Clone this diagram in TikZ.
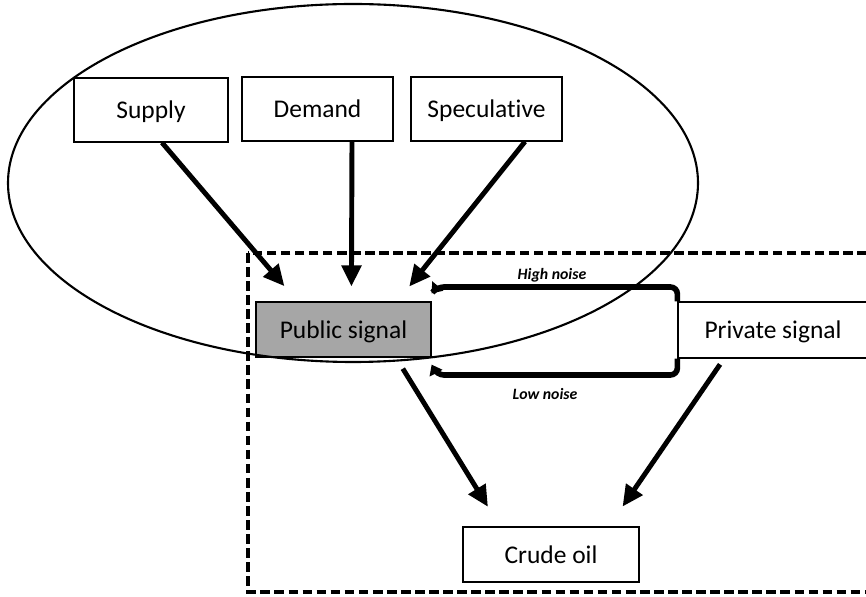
\documentclass[tikz,border=0pt]{standalone}
\usepackage{fontspec}
\setmainfont{Carlito}[Ligatures=NoCommon]
\usetikzlibrary{arrows.meta}
\definecolor{signalgray}{RGB}{166,166,166}
\newlength{\px}
\setlength{\px}{0.02cm}
\tikzset{
  box/.style={draw, line width=0.7pt, inner sep=0pt, text height=11.5pt, text depth=1.5pt, font=\fontsize{14.5}{16}\selectfont},
  flow/.style={line width=2.8pt, -{Triangle[width=11pt,length=12pt]}},
  noise/.style={line width=3.2pt, rounded corners=4pt, -{Triangle[width=8pt,length=5.5pt]}},
  noiselabel/.style={font=\fontsize{9}{10}\selectfont\bfseries\itshape},
  frame/.style={line width=1.8pt, dash pattern=on 5.5pt off 2.5pt},
}

\begin{document}
\begin{tikzpicture}[x=0.02cm, y=-0.02cm]
\useasboundingbox (0,0) rectangle (866,597);
\clip (0,0) rectangle (866,597);
\draw[frame] (248,253) rectangle (900,592);
\node[box, minimum width=154\px, minimum height=64\px](supply) at (151,110) {Supply};
\node[box, minimum width=151\px, minimum height=64\px](demand) at (317.5,109) {Demand};
\node[box, minimum width=151\px, minimum height=64\px](spec) at (486.5,109) {Speculative};
\node[box, fill=signalgray, minimum width=175\px, minimum height=55\px](public) at (343.5,329.5) {Public signal};
\node[box, minimum width=190\px, minimum height=56\px](private) at (773,330) {Private signal};
\node[box, minimum width=176\px, minimum height=55\px](crude) at (551,554.5) {Crude oil};
\draw[flow, shorten >=20\px] ([xshift=11\px]supply.south) -- ([xshift=42\px]public.north west);
\draw[flow, shorten >=15\px] ([xshift=34.5\px]demand.south) -- ([xshift=96\px]public.north west);
\draw[flow, shorten >=19\px] ([xshift=38.5\px]spec.south) -- ([xshift=142\px]public.north west);
\draw[flow, shorten <=13\px, shorten >=23\px] ([xshift=52.5\px]public.south) -- ([xshift=-51\px]crude.north);
\draw[flow, shorten <=7\px, shorten >=24\px] ([xshift=-49\px]private.south) -- ([xshift=58\px]crude.north);
\draw[noise] (private.north west) |- (437,287) -- ([yshift=8\px]public.north east);
\draw[noise] (private.south west) |- (437,375) -- ([yshift=-7\px]public.south east);
\node[noiselabel](high) at (552,275) {High noise};
\node[noiselabel](low) at (545,394) {Low noise};
\draw[line width=1.2pt] (353,183) ellipse [x radius=345, y radius=179];
\end{tikzpicture}
\end{document}
